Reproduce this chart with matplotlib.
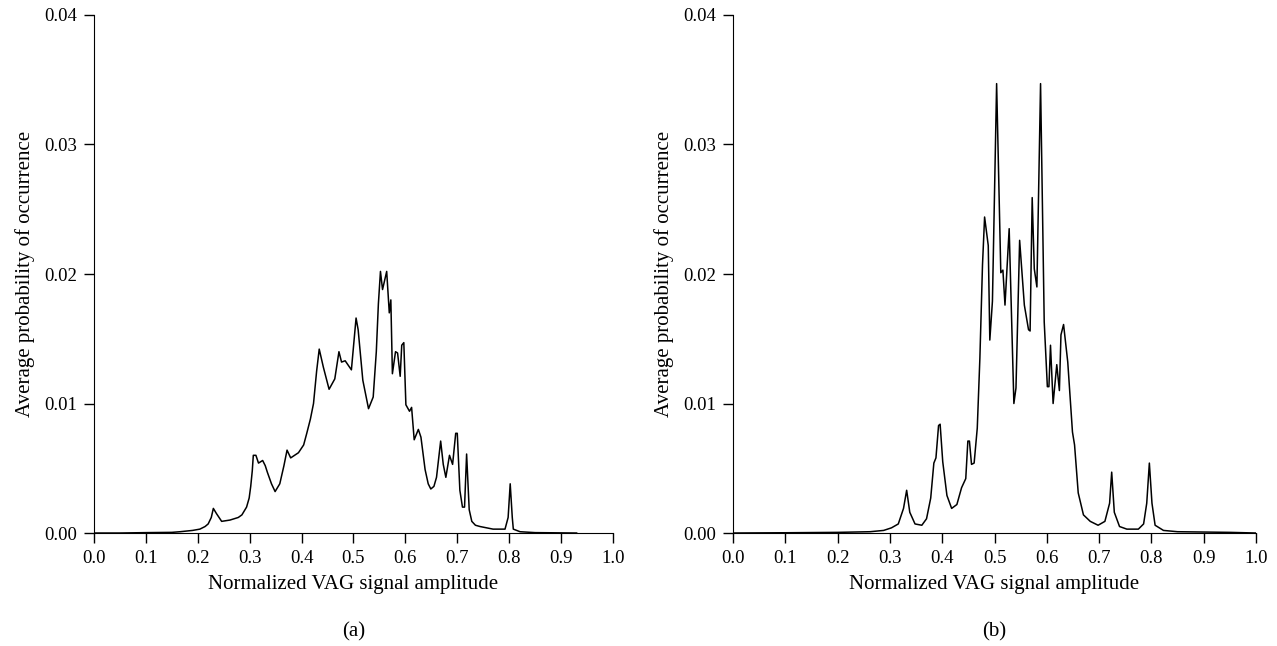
import numpy as np
import matplotlib
matplotlib.use('Agg')
import matplotlib.pyplot as plt

# panel (a)
xa = [0.0, 0.05, 0.10, 0.15, 0.166, 0.190, 0.204, 0.214, 0.220, 0.226, 0.230, 0.236, 0.246,
      0.262, 0.278, 0.285, 0.294, 0.299, 0.302, 0.305,
      0.307, 0.312, 0.317, 0.325, 0.330, 0.334, 0.342, 0.349, 0.358, 0.366, 0.372, 0.379,
      0.394, 0.404, 0.410, 0.417, 0.423,
      0.429, 0.434, 0.442, 0.453, 0.464, 0.472, 0.477, 0.484, 0.496, 0.505, 0.509, 0.518,
      0.529, 0.538, 0.544, 0.548, 0.552, 0.556, 0.564, 0.569, 0.572, 0.575, 0.581, 0.585,
      0.590, 0.593, 0.597, 0.601, 0.608, 0.612, 0.617, 0.625, 0.630, 0.638, 0.644, 0.649,
      0.655, 0.660, 0.668, 0.673, 0.678, 0.685, 0.691, 0.697, 0.700, 0.705, 0.710, 0.714,
      0.718, 0.723, 0.728, 0.735, 0.744, 0.769, 0.792, 0.798, 0.802, 0.806, 0.808, 0.821,
      0.85, 0.93]
ya = [0.0, 0.0, 0.00003, 0.00005, 0.0001, 0.0002, 0.0003, 0.0005, 0.0007, 0.0012, 0.0019,
      0.0015, 0.0009, 0.0010, 0.0012, 0.0014, 0.0020, 0.0027, 0.0036, 0.0048,
      0.0060, 0.0060, 0.0054, 0.0056, 0.0052, 0.0047, 0.0038, 0.0032, 0.0038, 0.0052, 0.0064,
      0.0058, 0.0062, 0.0068, 0.0077, 0.0088, 0.0100,
      0.0125, 0.0142, 0.0128, 0.0111, 0.0119, 0.0140, 0.0132, 0.0133, 0.0126, 0.0166, 0.0157,
      0.0118, 0.0096, 0.0105, 0.0140, 0.0177, 0.0202, 0.0188, 0.0202, 0.0170, 0.0180, 0.0123,
      0.0140, 0.0139, 0.0121, 0.0145, 0.0147, 0.0099, 0.0094, 0.0097, 0.0072, 0.0080, 0.0074,
      0.0049, 0.0038, 0.0034, 0.0036, 0.0043, 0.0071, 0.0053, 0.0043, 0.0060, 0.0053, 0.0077,
      0.0077, 0.0033, 0.0020, 0.0020, 0.0061, 0.0018, 0.0009, 0.0006, 0.0005, 0.0003, 0.0003,
      0.0012, 0.0038, 0.0012, 0.0003, 0.0001, 0.00003, 0.0]

# panel (b)
xb = [0.0, 0.10, 0.20, 0.262, 0.288, 0.303, 0.316, 0.326, 0.332, 0.338, 0.348, 0.361, 0.370,
      0.378, 0.384, 0.388, 0.393, 0.396, 0.401, 0.409, 0.418, 0.428, 0.437, 0.445, 0.449,
      0.452, 0.456, 0.461, 0.467, 0.472, 0.477, 0.481, 0.488, 0.491, 0.496, 0.504, 0.512,
      0.516, 0.520, 0.528, 0.537, 0.541, 0.548, 0.557, 0.565, 0.568, 0.572, 0.576, 0.581,
      0.588, 0.595, 0.601, 0.604, 0.607, 0.612, 0.619, 0.624, 0.627, 0.632, 0.640, 0.649,
      0.653, 0.660, 0.670, 0.683, 0.698, 0.711, 0.720, 0.724, 0.729, 0.739, 0.753, 0.775,
      0.785, 0.791, 0.796, 0.801, 0.807, 0.823, 0.85, 0.95, 1.0]
yb = [0.0, 0.00002, 0.00005, 0.0001, 0.0002, 0.0004, 0.0007, 0.0019, 0.0033, 0.0016, 0.0007,
      0.0006, 0.0011, 0.0027, 0.0054, 0.0058, 0.0083, 0.0084, 0.0055, 0.0029, 0.0019, 0.0022,
      0.0035, 0.0042, 0.0071, 0.0071, 0.0053, 0.0054, 0.0081, 0.0135, 0.0207, 0.0244, 0.0222,
      0.0149, 0.0179, 0.0347, 0.0201, 0.0203, 0.0176, 0.0235, 0.0100, 0.0112, 0.0226, 0.0176,
      0.0157, 0.0156, 0.0259, 0.0204, 0.0190, 0.0347, 0.0163, 0.0113, 0.0113, 0.0145, 0.0100,
      0.0130, 0.0110, 0.0153, 0.0161, 0.0132, 0.0078, 0.0068, 0.0031, 0.0014, 0.0009, 0.0006,
      0.0009, 0.0023, 0.0047, 0.0016, 0.0005, 0.0003, 0.0003, 0.0007, 0.0023, 0.0054, 0.0023,
      0.0006, 0.0002, 0.0001, 0.00005, 0.0]

xticks = np.arange(0, 1.01, 0.1)
yticks = [0.0, 0.01, 0.02, 0.03, 0.04]

plt.rcParams['font.family'] = ['Liberation Serif', 'DejaVu Serif']
plt.rcParams['font.size'] = 15

fig = plt.figure(figsize=(12.77, 6.46), dpi=100)
ax1 = fig.add_axes([0.0736, 0.1749, 0.4064, 0.8019])
ax2 = fig.add_axes([0.5740, 0.1749, 0.4096, 0.8019])

for ax, x, y, lab in [(ax1, xa, ya, '(a)'), (ax2, xb, yb, '(b)')]:
    ax.plot(x, y, color='black', lw=1.1)
    ax.set_xlim(0, 1.0)
    ax.set_ylim(0, 0.04)
    ax.set_xticks(xticks)
    ax.set_xticklabels(['%.1f' % t for t in xticks])
    ax.set_yticks(yticks)
    ax.set_yticklabels(['%.2f' % t for t in yticks])
    ax.spines['top'].set_visible(False)
    ax.spines['right'].set_visible(False)
    ax.tick_params(direction='out', length=7, width=1, pad=5, labelsize=13.5)
    ax.set_xlabel('Normalized VAG signal amplitude', labelpad=6)
    ax.set_ylabel('Average probability of occurrence', labelpad=7)
    ax.text(0.5, -0.19, lab, transform=ax.transAxes, ha='center', va='center')

fig.savefig('out.png', dpi=100)
